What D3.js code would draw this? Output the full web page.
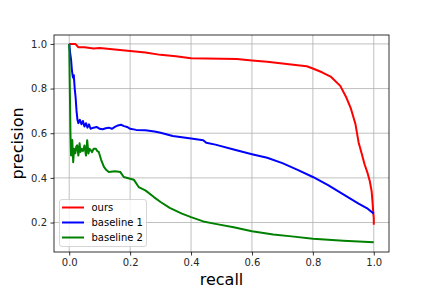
<!DOCTYPE html>
<html>
<head>
<meta charset="utf-8">
<script src="https://cdn.jsdelivr.net/npm/d3@7"></script>
<style>
  body { margin: 0; background: #fff; }
  text { font-family: "DejaVu Sans", sans-serif; }
</style>
</head>
<body>
<div id="container"></div>
<script>
// values
var oursRecall = [0, 0.02, 0.03, 0.05, 0.08, 0.1, 0.15, 0.2, 0.25, 0.3, 0.35, 0.4, 0.45, 0.5, 0.55, 0.6, 0.65,
  0.7, 0.75, 0.78, 0.8, 0.83, 0.86, 0.89, 0.91, 0.925, 0.94, 0.95, 0.96, 0.97, 0.98, 0.987, 0.993, 0.996, 0.998, 1.0, 1.0];
var oursPrecision = [1.0, 1.0, 0.985, 0.985, 0.98, 0.982, 0.975, 0.968, 0.962, 0.951, 0.945, 0.936, 0.935, 0.934, 0.932, 0.926, 0.92,
  0.912, 0.905, 0.9, 0.89, 0.873, 0.852, 0.812, 0.76, 0.71, 0.64, 0.56, 0.51, 0.46, 0.42, 0.385, 0.34, 0.29, 0.25, 0.22, 0.19];

var base1Recall = [0, 0.003, 0.006, 0.009, 0.012, 0.015, 0.018, 0.021, 0.024, 0.027, 0.03, 0.035, 0.04, 0.045, 0.05, 0.055,
  0.06, 0.065, 0.07, 0.08, 0.09, 0.1, 0.11, 0.12, 0.13, 0.14, 0.15, 0.16, 0.17, 0.18, 0.19, 0.2, 0.22, 0.25, 0.28, 0.3,
  0.34, 0.37, 0.4, 0.44, 0.45, 0.48, 0.54, 0.6, 0.65, 0.7, 0.75, 0.8, 0.85, 0.9, 0.95, 0.98, 1.0];
var base1Precision = [1.0, 0.96, 0.93, 0.88, 0.85, 0.86, 0.8, 0.76, 0.7, 0.66, 0.645, 0.66, 0.64, 0.655, 0.63, 0.645,
  0.625, 0.64, 0.62, 0.625, 0.628, 0.62, 0.618, 0.622, 0.625, 0.62, 0.628, 0.635, 0.638, 0.632, 0.628, 0.62, 0.615, 0.613, 0.608, 0.602,
  0.588, 0.582, 0.576, 0.569, 0.557, 0.549, 0.527, 0.506, 0.49, 0.466, 0.436, 0.404, 0.368, 0.326, 0.285, 0.262, 0.24];

var base2Recall = [0, 0.002, 0.004, 0.006, 0.008, 0.01, 0.013, 0.016, 0.02, 0.023, 0.026, 0.03, 0.034, 0.037, 0.041, 0.045,
  0.05, 0.055, 0.059, 0.063, 0.067, 0.071, 0.075, 0.08, 0.087, 0.092, 0.097, 0.105, 0.114, 0.122, 0.13, 0.15, 0.168, 0.179,
  0.2, 0.212, 0.228, 0.25, 0.278, 0.3, 0.33, 0.37, 0.4, 0.44, 0.48, 0.54, 0.6, 0.67, 0.73, 0.8, 0.9, 1.0];
var base2Precision = [1.0, 0.8, 0.6, 0.5, 0.55, 0.57, 0.47, 0.53, 0.51, 0.54, 0.546, 0.5, 0.555, 0.516, 0.53, 0.52,
  0.545, 0.5, 0.569, 0.509, 0.53, 0.524, 0.515, 0.53, 0.531, 0.52, 0.516, 0.48, 0.449, 0.435, 0.426, 0.43, 0.426, 0.404,
  0.396, 0.392, 0.359, 0.344, 0.314, 0.292, 0.266, 0.24, 0.224, 0.205, 0.194, 0.179, 0.161, 0.146, 0.138, 0.127, 0.118, 0.112];

var seriesNames = ["ours", "baseline 1", "baseline 2"];
var seriesColors = ["#ff0000", "#0000ff", "#008000"];
var xTicks = [0, 0.2, 0.4, 0.6, 0.8, 1.0];
var yTicks = [0.2, 0.4, 0.6, 0.8, 1.0];

var margin = {top: 35, right: 43, bottom: 36, left: 54},
    width = 432 - margin.left - margin.right,
    height = 288 - margin.top - margin.bottom;

var svg = d3.select("#container")
  .append("svg")
    .attr("width", 432)
    .attr("height", 288)
  .append("g")
    .attr("transform", "translate(" + margin.left + "," + margin.top + ")");

var x = d3.scaleLinear().domain([-0.05, 1.05]).range([0, width]);
var y = d3.scaleLinear().domain([0.068, 1.04]).range([height, 0]);

// grid
svg.append("g")
  .selectAll("line.vx")
  .data(xTicks)
  .enter().append("line")
    .attr("x1", d => x(d)).attr("x2", d => x(d))
    .attr("y1", 0).attr("y2", height)
    .style("stroke", "#b0b0b0").style("stroke-width", 0.8);
svg.append("g")
  .selectAll("line.hy")
  .data(yTicks)
  .enter().append("line")
    .attr("x1", 0).attr("x2", width)
    .attr("y1", d => y(d)).attr("y2", d => y(d))
    .style("stroke", "#b0b0b0").style("stroke-width", 0.8);

// curves
var allSeries = [
  {r: oursRecall, p: oursPrecision},
  {r: base1Recall, p: base1Precision},
  {r: base2Recall, p: base2Precision}
];
var line = d3.line().x(d => x(d[0])).y(d => y(d[1]));
allSeries.forEach(function(s, i) {
  svg.append("path")
    .datum(d3.zip(s.r, s.p))
    .attr("d", line)
    .style("fill", "none")
    .style("stroke", seriesColors[i])
    .style("stroke-width", 2)
    .style("stroke-linejoin", "round");
});

// axes
var xAxis = svg.append("g")
  .attr("transform", "translate(0," + height + ")")
  .call(d3.axisBottom(x).tickValues(xTicks).tickFormat(d3.format(".1f")).tickSize(3.5).tickPadding(3.5));
var yAxis = svg.append("g")
  .call(d3.axisLeft(y).tickValues(yTicks).tickFormat(d3.format(".1f")).tickSize(3.5).tickPadding(3.5));
[xAxis, yAxis].forEach(function(a) {
  a.select(".domain").remove();
  a.selectAll("line").style("stroke", "#000").style("stroke-width", 0.8);
  a.selectAll("text").style("font-size", "10px").style("fill", "#262626")
    .style("font-family", "DejaVu Sans, sans-serif");
});

// frame
svg.append("rect")
  .attr("width", width).attr("height", height)
  .style("fill", "none").style("stroke", "#000").style("stroke-width", 0.8);

// labels
svg.append("text")
  .attr("text-anchor", "middle")
  .attr("x", width / 2)
  .attr("y", 285 - margin.top)
  .style("font-size", "16px")
  .text("recall");
svg.append("text")
  .attr("text-anchor", "middle")
  .attr("transform", "translate(" + (23 - margin.left) + "," + (height / 2) + ") rotate(-90)")
  .style("font-size", "16px")
  .text("precision");

// legend
var leg = svg.append("g").attr("transform", "translate(" + (59.5 - margin.left) + "," + (199.5 - margin.top) + ")");
leg.append("rect")
  .attr("width", 87).attr("height", 47).attr("rx", 2.5)
  .style("fill", "#fff").style("fill-opacity", 0.8)
  .style("stroke", "#cccccc").style("stroke-width", 0.8);
seriesNames.forEach(function(name, i) {
  var cy = 8 + i * 15;
  leg.append("line")
    .attr("x1", 2.5).attr("x2", 24.5).attr("y1", cy).attr("y2", cy)
    .style("stroke", seriesColors[i]).style("stroke-width", 2);
  leg.append("text")
    .attr("x", 32).attr("y", cy).attr("dy", "0.35em")
    .style("font-size", "10px").style("fill", "#000")
    .text(name);
});
</script>
</body>
</html>
